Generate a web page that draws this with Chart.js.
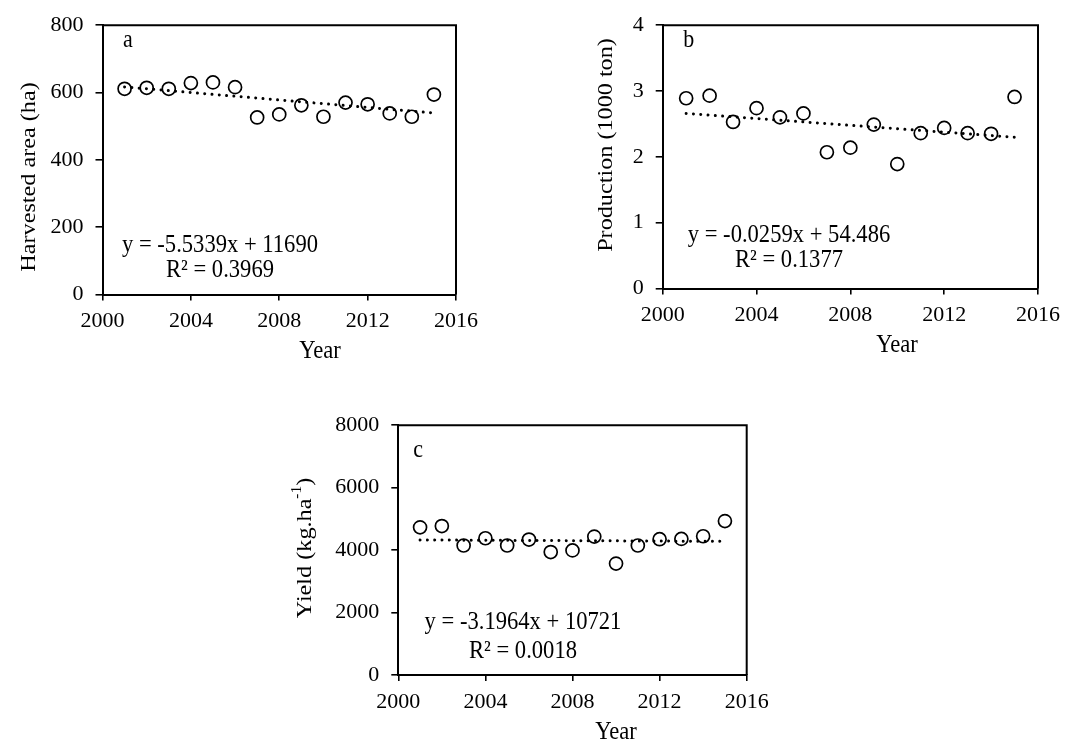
<!DOCTYPE html>
<html>
<head>
<meta charset="utf-8">
<script src="https://cdn.jsdelivr.net/npm/chart.js@4.4.1/dist/chart.umd.min.js"></script>
<style>
html,body{margin:0;padding:0;background:#fff;width:1068px;height:745px;overflow:hidden;}
canvas{position:absolute;}
</style>
</head>
<body>
<canvas id="chartA" style="left:0px;top:0px" width="520" height="370"></canvas>
<canvas id="chartB" style="left:530px;top:0px" width="538" height="370"></canvas>
<canvas id="chartC" style="left:250px;top:400px" width="560" height="345"></canvas>
<script>
// ---- data ----
const years = [2001,2002,2003,2004,2005,2006,2007,2008,2009,2010,2011,2012,2013,2014,2015];
const xTickValues = [2000,2004,2008,2012,2016];

const harvestedArea = [611,614,611,628,630,616,526,535,562,528,570,565,538,528,594];
const production    = [2.89,2.93,2.53,2.74,2.60,2.66,2.07,2.14,2.49,1.89,2.36,2.44,2.36,2.35,2.91];
const yieldKgHa     = [4728,4771,4148,4380,4148,4338,3937,3990,4433,3568,4148,4349,4359,4443,4929];

const trendYears = [2001,2015];
const trendArea       = [616.7,539.2];
const trendProduction = [2.660,2.298];
const trendYield      = [4325,4280];

const yTicksArea       = [0,200,400,600,800];
const yTicksProduction = [0,1,2,3,4];
const yTicksYield      = [0,2000,4000,6000,8000];

const panelLetters = ['a','b','c'];
const equations = [
  ['y = -5.5339x + 11690','R\u00B2 = 0.3969'],
  ['y = -0.0259x + 54.486','R\u00B2 = 0.1377'],
  ['y = -3.1964x + 10721','R\u00B2 = 0.0018']
];
const xTitle = 'Year';
const yTitles = ['Harvested area (ha)','Production (1000 ton)','Yield (kg.ha'];
const yTitleSup = ['','','-1'];
const yTitleTail = ['','',')'];

// ---- drawing helpers ----
const FONT = '"Liberation Serif", "Times New Roman", serif';
const STRETCH = 1.1;

function hText(ctx, str, x, y, align, size) {
  ctx.save();
  ctx.translate(x, y);
  ctx.scale(1, STRETCH);
  ctx.font = size + 'px ' + FONT;
  ctx.textAlign = align;
  ctx.textBaseline = 'alphabetic';
  ctx.fillStyle = '#000';
  ctx.fillText(str, 0, 0);
  ctx.restore();
}

function vTitle(ctx, main, sup, tail, x, cy, size) {
  ctx.save();
  ctx.translate(x, cy);
  ctx.rotate(-Math.PI / 2);
  ctx.scale(STRETCH, 1);
  ctx.fillStyle = '#000';
  ctx.textBaseline = 'alphabetic';
  ctx.textAlign = 'left';
  const f1 = size + 'px ' + FONT, f2 = Math.round(size * 0.62) + 'px ' + FONT;
  ctx.font = f1; const w1 = ctx.measureText(main).width; const w3 = ctx.measureText(tail).width;
  ctx.font = f2; const w2 = sup ? ctx.measureText(sup).width : 0;
  let px = -(w1 + w2 + w3) / 2;
  ctx.font = f1; ctx.fillText(main, px, 0); px += w1;
  if (sup) { ctx.font = f2; ctx.fillText(sup, px, -size * 0.42); px += w2; }
  ctx.font = f1; if (tail) ctx.fillText(tail, px, 0);
  ctx.restore();
}

function makePanel(id, cfg) {
  const ctx = document.getElementById(id).getContext('2d');
  const textPlugin = {
    id: 'panelText',
    afterDraw(chart) {
      const c = chart.ctx, a = chart.chartArea;
      c.save();
      c.strokeStyle = '#000';
      c.lineWidth = 2;
      c.beginPath();
      c.moveTo(a.left, a.top); c.lineTo(a.right, a.top); c.lineTo(a.right, a.bottom);
      c.stroke();
      c.restore();
      const t = cfg.text;
      hText(c, t.letter, t.letterX, t.letterY, 'left', 22);
      hText(c, t.eq[0], t.eqX, t.eqY1, 'center', 22.6);
      hText(c, t.eq[1], t.eqX, t.eqY2, 'center', 22.6);
      hText(c, xTitle, t.xtX, t.xtY, 'center', 22.6);
      vTitle(c, t.yt, t.ytSup, t.ytTail, t.ytX, t.ytY, 22);
    }
  };
  return new Chart(ctx, {
    type: 'scatter',
    data: {
      datasets: [
        {
          type: 'line',
          data: trendYears.map((x, i) => ({x: x, y: cfg.trend[i]})),
          borderColor: '#000',
          borderWidth: 3,
          borderDash: [0.01, 7.3],
          borderCapStyle: 'round',
          pointRadius: 0,
          fill: false,
          order: 0
        },
        {
          data: years.map((x, i) => ({x: x, y: cfg.values[i]})),
          pointStyle: 'circle',
          pointRadius: 6.5,
          pointBorderWidth: 1.7,
          pointBorderColor: '#000',
          pointBackgroundColor: 'rgba(0,0,0,0)',
          showLine: false,
          order: 1
        }
      ]
    },
    options: {
      responsive: false,
      animation: false,
      events: [],
      layout: {padding: {left: 0, top: cfg.top, right: cfg.right, bottom: 0}},
      plugins: {legend: {display: false}, tooltip: {enabled: false}},
      scales: {
        x: {
          type: 'linear', min: 2000, max: 2016,
          afterBuildTicks: s => { s.ticks = xTickValues.map(v => ({value: v})); },
          afterFit: s => { s.height = cfg.xh; },
          grid: {display: true, drawOnChartArea: false, drawTicks: true, tickLength: 6, color: '#000', lineWidth: 1.6},
          border: {display: true, color: '#000', width: 2},
          ticks: {color: '#000', font: {family: FONT, size: 22}, padding: 8, maxRotation: 0, autoSkip: false, callback: v => String(v)}
        },
        y: {
          type: 'linear', min: cfg.yTicks[0], max: cfg.yTicks[cfg.yTicks.length - 1],
          afterBuildTicks: s => { s.ticks = cfg.yTicks.map(v => ({value: v})); },
          afterFit: s => { s.width = cfg.yw; },
          grid: {display: true, drawOnChartArea: false, drawTicks: true, tickLength: 7, color: '#000', lineWidth: 1.6},
          border: {display: true, color: '#000', width: 2},
          ticks: {color: '#000', font: {family: FONT, size: 22}, padding: 12, autoSkip: false, callback: v => String(v)}
        }
      }
    },
    plugins: [textPlugin]
  });
}

// Panel a (canvas at 0,0)
makePanel('chartA', {
  values: harvestedArea, trend: trendArea, yTicks: yTicksArea,
  top: 19.5, right: 520 - 456, xh: 370 - 294.5, yw: 102.5,
  text: {letter: panelLetters[0], letterX: 123, letterY: 46.5,
         eq: equations[0], eqX: 220, eqY1: 251.5, eqY2: 276.5,
         xtX: 320, xtY: 358,
         yt: yTitles[0], ytSup: yTitleSup[0], ytTail: yTitleTail[0], ytX: 35, ytY: 177}
});
// Panel b (canvas at 530,0)
makePanel('chartB', {
  values: production, trend: trendProduction, yTicks: yTicksProduction,
  top: 18.5, right: 538 - 514.5, xh: 370 - 288.5, yw: 132.7,
  text: {letter: panelLetters[1], letterX: 683.3 - 530, letterY: 47.3,
         eq: equations[1], eqX: 789 - 530, eqY1: 241.7, eqY2: 266.7,
         xtX: 897 - 530, xtY: 351.8,
         yt: yTitles[1], ytSup: yTitleSup[1], ytTail: yTitleTail[1], ytX: 612 - 530, ytY: 145}
});
// Panel c (canvas at 250,400)
makePanel('chartC', {
  values: yieldKgHa, trend: trendYield, yTicks: yTicksYield,
  top: 22.3, right: 560 - 496.7, xh: 345 - 275, yw: 148.3,
  text: {letter: panelLetters[2], letterX: 413.3 - 250, letterY: 456.7 - 400,
         eq: equations[2], eqX: 523 - 250, eqY1: 629.3 - 400, eqY2: 658.3 - 400,
         xtX: 616 - 250, xtY: 738.5 - 400,
         yt: yTitles[2], ytSup: yTitleSup[2], ytTail: yTitleTail[2], ytX: 310.5 - 250, ytY: 548 - 400}
});
</script>
</body>
</html>
